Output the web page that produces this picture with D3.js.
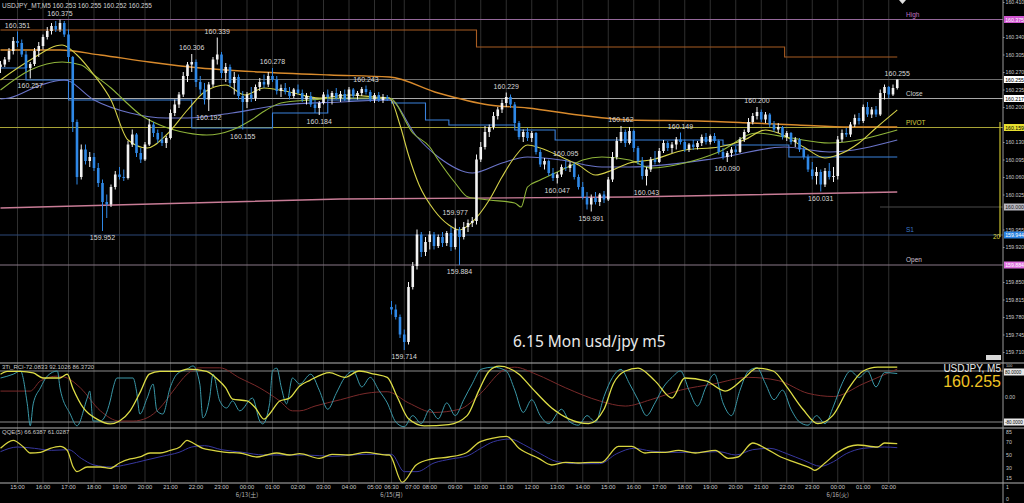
<!DOCTYPE html>
<html>
<head>
  <meta charset="utf-8">
  <title>USDJPY M5</title>
  <style>
    body { margin: 0; background: #000; }
    svg { display: block; }
  </style>
</head>
<body>
<script src="https://d3js.org/d3.v7.min.js"></script>
<script>

// all prices are in points: 1 point = 0.001 yen above 160.000
// candles: [open, high, low, close], one entry per bar (Fri 14:20 .. Tue 02:20)
var candles = [
 [280,292,268,285],[285,300,280,295],[295,318,290,312],[312,340,305,332],[332,351,320,328],
 [328,335,300,305],[305,312,270,278],[278,290,257,286],[286,318,282,312],[312,330,300,322],
 [322,345,315,340],[340,360,335,352],[352,368,345,362],[362,372,350,355],[355,375,350,368],
 [368,372,340,345],[345,355,290,300],[300,302,150,170],[170,175,45,60],[60,125,55,115],
 [115,125,85,92],[92,110,80,100],[100,108,72,78],[78,88,40,48],[48,55,-48,10],
 [10,25,-22,5],[5,45,0,40],[40,72,35,65],[65,80,55,60],[60,75,52,58],
 [58,132,55,125],[125,155,120,145],[145,148,100,108],[108,118,88,95],[95,130,92,125],
 [125,176,122,165],[165,170,140,148],[148,155,128,135],[135,150,122,128],[128,142,118,138],
 [138,195,135,188],[188,215,182,205],[205,230,198,225],[225,270,220,262],[262,290,250,285],
 [285,306,270,290],[290,295,240,250],[250,262,225,235],[235,248,205,215],[215,250,192,245],
 [245,300,240,295],[295,339,285,305],[305,310,258,268],[268,288,250,280],[280,285,240,248],
 [248,270,225,260],[260,265,215,222],[222,232,155,210],[210,230,198,225],[225,240,210,218],
 [218,245,212,240],[240,258,232,250],[250,265,238,245],[245,270,240,262],[262,278,250,255],
 [255,262,225,232],[232,245,220,238],[238,248,225,230],[230,240,215,222],[222,238,218,235],
 [235,245,225,228],[228,235,210,215],[215,228,205,222],[222,230,200,205],[205,215,188,198],
 [198,212,184,208],[208,230,205,225],[225,235,215,220],[220,232,205,228],[228,238,215,218],
 [218,232,210,226],[226,235,212,215],[215,240,210,235],[235,238,218,222],[222,232,215,228],
 [228,240,222,236],[236,243,225,230],[230,234,210,215],[215,228,208,224],[224,230,210,214],
 [214,226,208,220],[220,224,212,217],
 [-200,-188,-215,-205],[-205,-195,-225,-220],[-220,-215,-262,-255],[-255,-245,-286,-270],
 [-270,-150,-275,-160],[-160,-110,-165,-118],[-118,-45,-125,-55],[-55,-50,-100,-90],
 [-90,-60,-98,-70],[-70,-48,-85,-55],[-55,-50,-85,-78],[-78,-55,-82,-60],[-60,-50,-80,-72],
 [-72,-48,-78,-52],[-52,-40,-88,-80],[-80,-23,-85,-45],[-45,-40,-116,-60],[-60,-30,-65,-40],
 [-40,-25,-50,-32],[-32,-20,-40,-28],[-28,105,-35,95],[95,130,90,120],[120,162,115,150],
 [150,165,140,160],[160,190,155,182],[182,200,175,195],[195,215,188,208],[208,229,200,220],
 [220,225,198,205],[205,210,160,168],[168,172,135,140],[140,155,130,150],[150,158,132,138],
 [138,152,130,148],[148,150,105,110],[110,115,80,85],[85,98,75,92],[92,95,62,68],
 [68,78,52,58],[58,70,47,65],[65,85,60,80],[80,95,72,78],[78,90,70,85],
 [85,88,55,60],[60,65,35,40],[40,50,15,20],[20,30,-5,5],[5,25,-9,18],
 [18,30,5,10],[10,28,2,25],[25,32,8,15],[15,60,12,55],[55,110,50,100],
 [100,140,95,132],[132,162,128,150],[150,155,120,128],[128,160,125,152],[152,155,110,118],
 [118,122,85,92],[92,100,55,62],[62,80,43,75],[75,100,70,95],[95,112,85,90],
 [90,118,88,112],[112,134,108,128],[128,132,112,118],[118,130,108,125],[125,140,115,135],
 [135,149,125,130],[130,135,110,115],[115,128,110,125],[125,134,114,120],[120,132,115,128],
 [128,145,122,140],[140,148,125,130],[130,145,125,142],[142,148,128,132],[132,135,105,110],
 [110,118,95,100],[100,112,90,108],[108,120,100,115],[115,122,105,110],[110,140,108,135],
 [135,155,130,150],[150,178,148,170],[170,188,165,182],[182,200,175,190],[190,195,170,175],
 [175,190,168,185],[185,188,160,165],[165,172,150,155],[155,168,148,160],[160,162,135,140],
 [140,152,132,148],[148,150,125,130],[130,140,120,135],[135,138,110,115],[115,120,95,100],
 [100,105,70,75],[75,90,55,62],[62,80,45,70],[70,75,31,45],[45,78,40,72],
 [72,88,55,60],[60,80,50,62],[62,142,55,135],[135,155,130,148],[148,158,140,145],
 [145,170,140,165],[165,185,160,178],[178,188,165,172],[172,205,168,200],[200,210,180,185],
 [185,200,178,195],[195,202,180,185],[185,235,182,228],[228,245,215,240],[240,242,218,225],
 [225,245,222,238],[238,255,235,255]
];

// marked highs and lows: [bar, point]
var peaks = [[4,351],[14,375],[45,306],[51,339],[64,278],[86,243],[107,-23],[119,229],
             [133,95],[146,162],[160,149],[178,200],[211,255]];
var troughs = [[7,257],[24,-48],[49,192],[57,155],[75,184],[95,-286],[108,-116],[131,47],
               [139,-9],[152,43],[171,90],[193,31]];

// moving averages and bands: [bar, point]
var maFast = [[0,254],[7,294],[14.5,324],[18,304],[22,264],[26,214],[30,134],[34.5,118],[39,144],
  [44,194],[48,230],[53,244],[57.5,224],[62,238],[68,230],[75,218],[82,224],[88,220],[91.5,218],
  [94,164],[96,104],[98.5,44],[102,-6],[105.5,-36],[108,-46],[111,-30],[115,14],[118,60],[121,100],
  [124,124],[127,118],[132,100],[136,84],[140,64],[144,74],[148,88],[153,94],[161,114],[169,120],
  [175,134],[180,154],[183,148],[189,120],[194,98],[197,104],[202,128],[206,158],[211,194]];
var maMid = [[0,234],[7,274],[14.5,290],[19,284],[22,264],[26,238],[29,214],[33,184],[37.5,164],
  [44,148],[48.5,144],[54.5,154],[59,174],[62.5,194],[66,208],[73,214],[80,218],[87,218],[91.5,218],
  [97,148],[101,120],[103,94],[107,48],[110,20],[115,14],[121,8],[122.5,0],[124,40],[127,54],
  [130.5,68],[133.5,80],[137,94],[141.5,100],[148,94],[153,78],[161,88],[169,110],[178,148],
  [186,138],[195,128],[211,154]];
var maSlow = [[0,216],[2,218],[9.5,244],[15,254],[22,214],[30.5,188],[39,178],[44,178],[54.5,188],
  [66,204],[80,210],[91.5,214],[98,140],[103,100],[111,68],[118,88],[124,100],[132,94],[141.5,80],
  [148,80],[169,98],[184.5,120],[195,110],[211,134]];
var stepBlue = [[0,278],[6,254],[16,214],[45,158],[64,188],[77,214],[92,208],[100,174],[105.5,164],
  [121,154],[130.5,134],[170,124],[185.5,100],[211,100]];
var orangeStep = [[0,354],[112,320],[184.5,300],[211,300]];
var orangeSlow = [[0,314],[14,314],[23.5,304],[35,290],[47,278],[61,270],[77.5,264],[91.5,260],
  [103,228],[115,204],[124,198],[136,184],[148,174],[164,172],[176.5,168],[187.5,164],[200,160],[211,160]];
var pinkLine = [[0,-2],[80,16],[148,20],[211,30]];

// day levels
var levelNames = ["High", "Close", "PIVOT", "S1", "Open"];
var levelPoints = [375, 217, 159, -56, -116];
var lastPrice = 255;
var roundLevel = 0;

// price axis ticks
var priceTicks = [410,375,340,305,270,235,200,165,130,95,60,25,-10,-45,-80,-115,-150,-185,-220,-255,-290];

// RCI sub window: [bar, value]
var rciShort = [[0,58],[3,70],[4.7,80],[6.3,-23],[7,-92],[7.7,-23],[9.4,27],[11,64],[13.4,80],[14,27],
  [16.4,-55],[18,-92],[20.4,-5],[21,17],[21.8,-77],[23.5,-77],[25.8,-14],[26.5,27],[27.4,58],[31.2,58],
  [32,17],[32.8,-55],[34.5,-5],[35.9,39],[36.8,-45],[38.2,-55],[39.9,27],[41.5,70],[43.9,86],[45.3,96],
  [46.9,39],[47.6,-67],[49.2,-5],[50,70],[51.6,-14],[53.2,-36],[54.6,-14],[56.3,-45],[59.3,-5],[61,-77],
  [61.7,-86],[63.3,-23],[64,80],[65,89],[66.1,27],[67.3,-23],[68.7,58],[70.4,39],[73,70],[75,20],
  [77,-40],[79,10],[81,60],[83,80],[85,30],[87,60],[89,20],[91,-20],[93,-80],[95,-95],[97,-60],
  [99,-85],[101,-40],[103,-70],[105,-20],[107,-60],[109,-10],[111,40],[113,85],[116,92],[119,80],
  [121,20],[123,-50],[125,-10],[127,-60],[129,-85],[132,-40],[134,-80],[136,-90],[138,-60],[140,-80],
  [142,0],[144,60],[146,85],[148,40],[150,-10],[152,-60],[154,-20],[156,30],[158,60],[160,80],
  [162,20],[164,-30],[166,30],[168,70],[170,-20],[172,-60],[174,20],[176,80],[178,90],[180,40],
  [182,-10],[184,20],[186,-40],[188,-80],[190,-90],[192,-60],[194,-85],[196,-30],[198,40],[200,80],
  [202,60],[204,80],[206,30],[208,75],[211,72]];
var rciMid = [[0,70],[1.6,79],[4.7,79],[7.7,74],[10,58],[14,58],[15.7,70],[17,27],[19.5,-36],[22.7,-71],
  [25.8,-86],[28,-77],[30.5,-45],[33,17],[35,70],[37.5,79],[42,79],[44,86],[48.5,79],[51,55],[53,27],
  [54.6,-8],[58,-14],[60,-36],[62,-71],[63.3,-55],[65.7,-14],[68,-5],[70.4,33],[72.7,50],[77.4,75],
  [81,60],[84.4,80],[88,70],[91,60],[93.3,0],[96,-70],[99.7,-92],[105.5,-88],[109.8,-60],[112.6,20],
  [115,80],[117.3,95],[122,70],[125,27],[129.7,-36],[133.7,-70],[138.4,-85],[142,-40],[144.2,40],
  [147,80],[150,89],[154,49],[158,-5],[161,58],[166,49],[170.5,17],[175,58],[178,89],[181.8,80],
  [185,30],[188.8,-40],[192.3,-85],[195.8,-60],[199.3,20],[203,80],[206.4,92],[211,92]];
var rciLong = [[0,17],[7,17],[9.4,49],[13.4,64],[15.7,58],[18.8,27],[23.5,-45],[28,-77],[31.2,-77],
  [34.5,-67],[37.5,-36],[40.6,17],[43.9,70],[46.9,90],[51.6,90],[56.3,58],[61,27],[65.7,-14],
  [68.7,-45],[70.4,-45],[74,-30],[80,-10],[86,10],[91,15],[96,-20],[102,-50],[108,-40],[113,10],
  [118,80],[121,92],[126,70],[133,27],[141,-14],[147,-30],[153,-10],[160,20],[168,40],[176,60],
  [183,50],[190,10],[196,0],[203,40],[211,86]];

// QQE sub window: [bar, value]
var qqeFast = [[0,60],[3,72],[5.4,62],[7,53],[9.4,54],[11.7,60],[14,63],[15.7,57],[17.1,32],[18,25],
  [20.4,32],[23.5,32],[25.8,30],[28,38],[30.5,44],[32.8,47],[35.2,53],[37.5,53],[39.9,57],[42.2,62],
  [43.9,72],[45.3,68],[47.6,60],[50,57],[53.2,54],[56.3,53],[60.3,47],[62.6,50],[65,53],[68,50],
  [70.4,52],[75,45],[78,51],[82,50],[86,54],[90.8,50],[91.5,50],[94.5,9],[97.8,35],[101.5,44],
  [105.5,47],[109.5,53],[112.6,69],[115.6,75],[119.1,78],[122,60],[126.6,45],[129.7,35],[133,39],
  [136,38],[139,39],[141.4,39],[145.4,63],[148.5,63],[151.7,53],[153.1,54],[156.4,54],[159.5,57],
  [163.5,53],[168.2,57],[171.2,45],[173.5,47],[177,68],[180,60],[183.6,47],[187,39],[190.7,30],
  [191.6,27],[194,38],[197,54],[201.7,65],[206.4,62],[208,68],[211,67]];
var qqeSlow = [[0,55],[4,62],[8,60],[12,57],[16,58],[19,45],[22,35],[26,32],[30,36],[34,42],[38,48],
  [42,54],[45,62],[48,64],[52,58],[57,54],[62,50],[67,50],[72,50],[78,48],[86,51],[92,51],[95,25],
  [98,25],[102,38],[106,44],[110,49],[113,60],[116,70],[120,74],[123,66],[127,52],[131,40],[136,37],
  [141,37],[145,52],[149,60],[153,56],[158,54],[164,54],[169,55],[173,50],[177,58],[181,60],[185,52],
  [189,42],[193,33],[196,40],[199,52],[203,60],[208,62],[211,61]];

// time axis
var timeTicks = [[4,"15:00"],[10,"16:00"],[16,"17:00"],[22,"18:00"],[28,"19:00"],[34,"20:00"],
  [40,"21:00"],[46,"22:00"],[52,"23:00"],[58,"00:00"],[64,"01:00"],[70,"02:00"],[76,"03:00"],
  [82,"04:00"],[88,"05:00"],[92,"06:30"],[95,"07:00"],[101,"08:00"],[107,"09:00"],[113,"10:00"],
  [119,"11:00"],[125,"12:00"],[131,"13:00"],[137,"14:00"],[143,"15:00"],[149,"16:00"],[155,"17:00"],
  [161,"18:00"],[167,"19:00"],[173,"20:00"],[179,"21:00"],[185,"22:00"],[191,"23:00"],[197,"00:00"],
  [203,"01:00"],[209,"02:00"]];
var dateTicks = [[58,"6/13(土)"],[92,"6/15(月)"],[197,"6/16(火)"]];

var rciLevels = [80, 0, -80];
var qqeTicks = [85, 70, 50, 30, 15];

// ---------------- drawing ----------------
var W = 1024, H = 503, plotRight = 1003;
var font = "'Liberation Sans', Arial, sans-serif";
var axisFont = 5.2;
var levelStyle = {
  High:  {line: "#94689a", text: "#c070c0", box: "#d055d0", boxText: "#ffffff"},
  Close: {line: "#a8a8a8", text: "#d0d0d0", box: "#ffffff", boxText: "#000000"},
  PIVOT: {line: "#a8a436", text: "#d8d040", box: "#e8e030", boxText: "#000000"},
  S1:    {line: "#2c4878", text: "#3c78c8", box: "#2a82e0", boxText: "#ffffff"},
  Open:  {line: "#8a7888", text: "#d0c0d0", box: "#e070e0", boxText: "#ffffff"}
};

var svg = d3.select("body").append("svg").attr("width", W).attr("height", H);
svg.append("rect").attr("width", W).attr("height", H).attr("fill", "#000");

var x = d3.scaleLinear().domain([0, 212]).range([0.5, 901.5]);
var y = d3.scaleLinear().domain([-312, 414]).range([363, 0]);
var yRci = d3.scaleLinear().domain([-80, 80]).range([422, 371]);
var yQqe = d3.scaleLinear().domain([0, 100]).range([488.3, 421.7]);

var defs = svg.append("defs");
function addClip(id, y0, y1) {
  defs.append("clipPath").attr("id", id).append("rect")
    .attr("x", 0).attr("y", y0).attr("width", plotRight).attr("height", y1 - y0);
}
addClip("cMain", 0, 363);
addClip("cRci", 364, 428);
addClip("cQqe", 429, 483);

function fmt(p) { return (160 + p / 1000).toFixed(3); }

// vertical grid
svg.append("g").selectAll("line").data(timeTicks).enter().append("line")
  .attr("x1", function(d){ return x(d[0]); }).attr("x2", function(d){ return x(d[0]); })
  .attr("y1", 0).attr("y2", 483)
  .attr("stroke", "#2f2f2f").attr("stroke-width", 1);

var main = svg.append("g").attr("clip-path", "url(#cMain)");

// levels
main.selectAll(".lvl").data(levelNames).enter().append("line")
  .attr("x1", 0).attr("x2", plotRight)
  .attr("y1", function(d, i){ return y(levelPoints[i]); })
  .attr("y2", function(d, i){ return y(levelPoints[i]); })
  .attr("stroke", function(d){ return levelStyle[d].line; }).attr("stroke-width", 1);
main.append("line").attr("x1", 0).attr("x2", plotRight)
  .attr("y1", y(lastPrice)).attr("y2", y(lastPrice)).attr("stroke", "#6e6e6e");
main.append("line").attr("x1", 880).attr("x2", plotRight)
  .attr("y1", y(roundLevel)).attr("y2", y(roundLevel)).attr("stroke", "#4a4a4a");

main.selectAll(".lvlname").data(levelNames).enter().append("text")
  .attr("x", 906).attr("y", function(d, i){ return y(levelPoints[i]) - 3; })
  .attr("font-family", font).attr("font-size", 6.5)
  .attr("fill", function(d){ return levelStyle[d].text; })
  .text(function(d){ return d; });

// indicator lines
function drawLine(g, data, ys, color, width, curve) {
  g.append("path").datum(data)
    .attr("fill", "none").attr("stroke", color).attr("stroke-width", width)
    .attr("d", d3.line()
      .x(function(d){ return x(d[0]); })
      .y(function(d){ return ys(d[1]); })
      .curve(curve || d3.curveMonotoneX));
}
drawLine(main, pinkLine, y, "#c87c96", 1.4, d3.curveLinear);
drawLine(main, orangeStep, y, "#a85c22", 1.1, d3.curveStepAfter);
drawLine(main, orangeSlow, y, "#d88a2c", 1.4);
drawLine(main, stepBlue, y, "#3a82dc", 1.1, d3.curveStepAfter);
drawLine(main, maSlow, y, "#6a74c8", 1.1);
drawLine(main, maMid, y, "#8fb43a", 1.1);
drawLine(main, maFast, y, "#d4d048", 1.1);

// candles
var bw = 2.6;
function bull(d){ return d[3] >= d[0]; }
function candleColor(d){ return bull(d) ? "#f2f2f2" : "#2f88e6"; }
main.selectAll(".wick").data(candles).enter().append("line")
  .attr("x1", function(d, i){ return x(i); }).attr("x2", function(d, i){ return x(i); })
  .attr("y1", function(d){ return y(d[1]); }).attr("y2", function(d){ return y(d[2]); })
  .attr("stroke", candleColor).attr("stroke-width", 1);
main.selectAll(".body").data(candles).enter().append("rect")
  .attr("x", function(d, i){ return x(i) - bw / 2; })
  .attr("y", function(d){ return y(Math.max(d[0], d[3])); })
  .attr("width", bw)
  .attr("height", function(d){ return Math.max(1, Math.abs(y(d[0]) - y(d[3]))); })
  .attr("fill", candleColor);

// high / low marks
main.selectAll(".pk").data(peaks).enter().append("text")
  .attr("x", function(d){ return x(d[0]); }).attr("y", function(d){ return y(d[1]) - 4; })
  .attr("text-anchor", "middle").attr("font-family", font).attr("font-size", 7)
  .attr("fill", "#d8d8d8").text(function(d){ return fmt(d[1]); });
main.selectAll(".tr").data(troughs).enter().append("text")
  .attr("x", function(d){ return x(d[0]); }).attr("y", function(d){ return y(d[1]) + 9; })
  .attr("text-anchor", "middle").attr("font-family", font).attr("font-size", 7)
  .attr("fill", "#d8d8d8").text(function(d){ return fmt(d[1]); });

// header + caption
svg.append("text").attr("x", 2).attr("y", 8).attr("font-family", font).attr("font-size", 6.5)
  .attr("fill", "#d0d0d0")
  .text("USDJPY_MT,M5  160.253 160.255 160.252 " + fmt(lastPrice));
svg.append("text").attr("x", 513).attr("y", 347).attr("font-family", "'Noto Sans', sans-serif")
  .attr("font-size", 15.5).attr("fill", "#e8e8e8").text("6.15 Mon usd/jpy m5");
svg.append("path").attr("d", "M899,0 L906,0 L902.5,4 Z").attr("fill", "#e0e0e0");

// spread marker near the axis
svg.append("line").attr("x1", 1000).attr("x2", 1000).attr("y1", 122).attr("y2", 237)
  .attr("stroke", "#c8c030").attr("stroke-width", 1.2);
svg.append("text").attr("x", 993).attr("y", 239).attr("font-family", font).attr("font-size", 6.5)
  .attr("fill", "#d8d040").text("20");

// RCI window
var rci = svg.append("g").attr("clip-path", "url(#cRci)");
rci.selectAll("line").data([80, -80]).enter().append("line")
  .attr("x1", 0).attr("x2", plotRight)
  .attr("y1", function(d){ return yRci(d); }).attr("y2", function(d){ return yRci(d); })
  .attr("stroke", "#8c8c8c");
drawLine(rci, rciLong, yRci, "#7a2a2a", 1);
drawLine(rci, rciShort, yRci, "#3a98a8", 1);
drawLine(rci, rciMid, yRci, "#dede46", 1.3);
svg.append("text").attr("x", 2).attr("y", 369).attr("font-family", font).attr("font-size", 6)
  .attr("fill", "#c8c8c8").text("3Ti_RCI-72.0833 92.1026 86.3720");

// QQE window
var qqe = svg.append("g").attr("clip-path", "url(#cQqe)");
drawLine(qqe, qqeSlow, yQqe, "#3838a0", 1);
drawLine(qqe, qqeFast, yQqe, "#d8d440", 1.3);
svg.append("text").attr("x", 2).attr("y", 434).attr("font-family", font).attr("font-size", 6)
  .attr("fill", "#c8c8c8").text("QQE(5) 66.6387 61.0287");

// window borders
svg.selectAll(".sep").data([363, 428, 483]).enter().append("line")
  .attr("x1", 0).attr("x2", W).attr("y1", function(d){ return d; }).attr("y2", function(d){ return d; })
  .attr("stroke", "#b4b4b4").attr("stroke-width", 1.2);
svg.append("line").attr("x1", plotRight).attr("x2", plotRight).attr("y1", 0).attr("y2", H)
  .attr("stroke", "#9a9a9a");

// price boxes, and ticks that are not hidden behind one
var boxes = levelNames.map(function(n, i){ return {p: levelPoints[i], s: levelStyle[n]}; });
boxes.push({p: lastPrice, s: {box: "#ffffff", boxText: "#000000"}});
boxes.push({p: roundLevel, s: {box: "#b8b8c0", boxText: "#202020"}});
var shownTicks = priceTicks.filter(function(t){
  return boxes.every(function(b){ return Math.abs(y(t) - y(b.p)) > 5.2; });
});

var ax = svg.append("g").attr("transform", "translate(" + plotRight + ",0)")
  .call(d3.axisRight(y).tickValues(shownTicks).tickSize(1.5).tickFormat(fmt));
ax.select(".domain").remove();
ax.selectAll("line").attr("stroke", "#9a9a9a");
ax.selectAll("text").attr("fill", "#c8c8c8").attr("font-size", axisFont).attr("font-family", font).attr("x", 2.5);

var bx = svg.append("g").selectAll("g").data(boxes).enter().append("g")
  .attr("transform", function(d){ return "translate(" + (plotRight + 1) + "," + y(d.p) + ")"; });
bx.append("rect").attr("x", 0).attr("y", -3.5).attr("width", 20).attr("height", 7)
  .attr("fill", function(d){ return d.s.box; });
bx.append("text").attr("x", 1.2).attr("y", 2).attr("font-family", font).attr("font-size", axisFont)
  .attr("fill", function(d){ return d.s.boxText; }).text(function(d){ return fmt(d.p); });

// sub window axes
svg.append("text").attr("x", plotRight + 3).attr("y", 367).attr("font-family", font)
  .attr("font-size", 3.8).attr("fill", "#c8c8c8").text("100");
rciLevels.forEach(function(v){
  var boxed = v !== 0;
  var g = svg.append("g").attr("transform", "translate(" + (plotRight + 1) + "," + (yRci(v) + (v > 0 ? 1 : 0)) + ")");
  if (boxed) g.append("rect").attr("y", -3.5).attr("width", 20).attr("height", 7).attr("fill", "#e8e8e8");
  g.append("text").attr("x", 1).attr("y", 2).attr("font-family", font)
    .attr("font-size", boxed ? 4.5 : axisFont)
    .attr("fill", boxed ? "#000" : "#c8c8c8").text(boxed ? v.toFixed(4) : "0.00");
});
svg.append("g").selectAll("text").data(qqeTicks).enter().append("text")
  .attr("x", plotRight + 3).attr("y", function(d){ return yQqe(d) + 2; })
  .attr("font-family", font).attr("font-size", axisFont).attr("fill", "#c8c8c8")
  .text(function(d){ return d; });

svg.append("g").selectAll("text").data([[1, 488.5], [0, 501]]).enter().append("text")
  .attr("x", plotRight + 3).attr("y", function(d){ return d[1]; })
  .attr("font-family", font).attr("font-size", axisFont).attr("fill", "#c8c8c8")
  .text(function(d){ return d[0]; });

// time axis; a label crowded by the one before it starts at its grid line
function crowded(i) { return i > 0 && x(timeTicks[i][0]) - x(timeTicks[i - 1][0]) < 16; }
svg.append("g").selectAll("text").data(timeTicks).enter().append("text")
  .attr("x", function(d, i){ return crowded(i) ? x(d[0]) + 1 : x(d[0]); })
  .attr("text-anchor", function(d, i){ return crowded(i) ? "start" : "middle"; })
  .attr("y", 489).attr("font-family", font).attr("font-size", 5.8)
  .attr("fill", "#c8c8c8").text(function(d){ return d[1]; });
svg.append("g").selectAll("text").data(dateTicks).enter().append("text")
  .attr("x", function(d){ return x(d[0]); }).attr("y", 496.5)
  .attr("text-anchor", "middle").attr("font-family", "'Noto Sans CJK JP', sans-serif").attr("font-size", 6)
  .attr("fill", "#b8b8b8").text(function(d){ return d[1]; });

// symbol block
svg.append("text").attr("x", 1001).attr("y", 372).attr("text-anchor", "end")
  .attr("font-family", font).attr("font-size", 10).attr("fill", "#e8e8e8").text("USDJPY, M5");
svg.append("text").attr("x", 1001).attr("y", 387).attr("text-anchor", "end")
  .attr("font-family", font).attr("font-size", 16).attr("fill", "#f0c424").text(fmt(lastPrice));
svg.append("rect").attr("x", 986).attr("y", 355).attr("width", 15).attr("height", 5).attr("fill", "#d8d8d8");

</script>
</body>
</html>
